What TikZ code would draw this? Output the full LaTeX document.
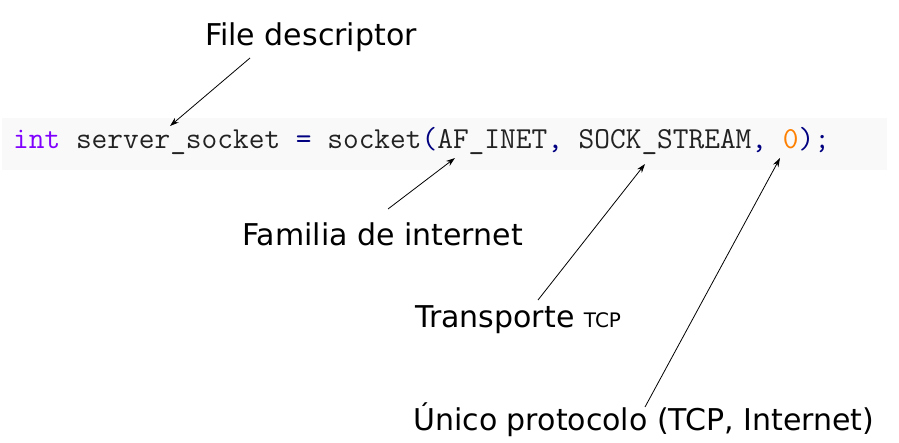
\documentclass[tikz,border=0pt]{standalone}
\usepackage{fontspec}
\setmainfont{DejaVu Sans}
\usetikzlibrary{arrows.meta}
\definecolor{kwpurple}{HTML}{8000FF}
\definecolor{opnavy}{HTML}{000080}
\definecolor{numorange}{HTML}{FF8000}
\definecolor{codegray}{HTML}{222222}
\definecolor{codebg}{HTML}{F9F9F9}
\tikzset{
  lbl/.style={anchor=base west, inner sep=0pt, font=\fontsize{30}{34}\selectfont, text=black},
  codetxt/.style={anchor=base west, inner sep=0pt, font=\ttfamily\fontsize{30.5}{34}\selectfont, text=codegray},
  ptr/.style={draw=black, line width=0.8pt, -{Stealth[length=9pt,width=6pt]}}
}
\begin{document}
\begin{tikzpicture}[x=1pt,y=-1pt]
\useasboundingbox (0,0) rectangle (899,442);
\fill[white] (0,0) rectangle (899,442);
\fill[codebg] (2,118) rectangle (887,170);
\node[codetxt] (code) at (13,148) {\textcolor{kwpurple}{int} server\_socket \textcolor{opnavy}{=} socket\textcolor{opnavy}{(}AF\_INET\textcolor{opnavy}{,} SOCK\_STREAM\textcolor{opnavy}{,} \textcolor{numorange}{0}\textcolor{opnavy}{);}};
\node[lbl] (fd) at (205,45) {File descriptor};
\node[lbl] (fam) at (242,245) {Familia de internet};
\node[lbl] (tra) at (415,327) {Transporte {\fontsize{20}{22}\selectfont TCP}};
\node[lbl] (uni) at (413,430) {Único protocolo (TCP, Internet)};
\coordinate (fdS) at (250,58);
\coordinate (fdT) at (170,126);
\coordinate (famS) at (388,209);
\coordinate (famT) at (455,158);
\coordinate (traS) at (538,300);
\coordinate (traT) at (645,164);
\coordinate (uniS) at (645,407);
\coordinate (uniT) at (780,158);
\draw[ptr] (fdS) -- (fdT);
\draw[ptr] (famS) -- (famT);
\draw[ptr] (traS) -- (traT);
\draw[ptr] (uniS) -- (uniT);
\end{tikzpicture}
\end{document}
